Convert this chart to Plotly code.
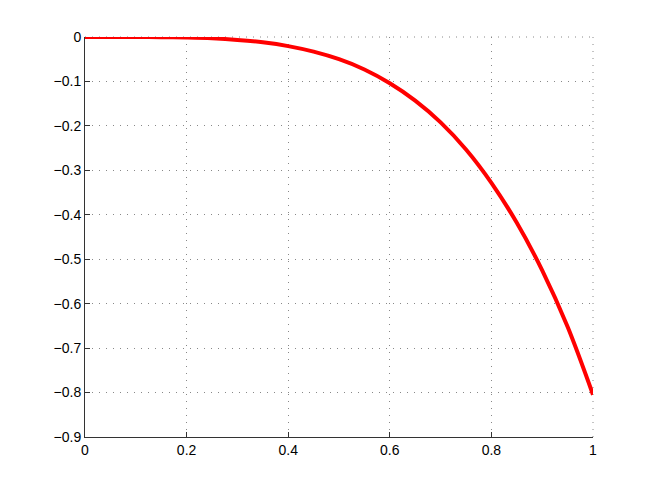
import plotly.graph_objects as go

x = [0, 0.05, 0.1, 0.15, 0.2, 0.25, 0.3, 0.35, 0.4, 0.45, 0.5,
     0.55, 0.6, 0.65, 0.7, 0.75, 0.8, 0.85, 0.9, 0.95, 1.0]
y = [0, 0, -0.0001, -0.0004, -0.0013, -0.003, -0.0065, -0.012, -0.0205, -0.033, -0.05,
     -0.073, -0.104, -0.143, -0.192, -0.253, -0.328, -0.418, -0.525, -0.652, -0.805]

xticks = [0, 0.2, 0.4, 0.6, 0.8, 1]
yticks = [0, -0.1, -0.2, -0.3, -0.4, -0.5, -0.6, -0.7, -0.8, -0.9]
ytick_text = ['0' if v == 0 else '\u2212' + str(abs(v)) for v in yticks]

fig = go.Figure()
fig.add_trace(go.Scatter(x=x, y=y, mode='lines', line=dict(color='red', width=4, shape='spline'),
                         showlegend=False))

grid_color = '#888888'
axis_style = dict(showgrid=True, gridcolor=grid_color, griddash='1px,6px', gridwidth=1,
                  zeroline=False, showline=True, linecolor='#333333', linewidth=1,
                  ticks='inside', ticklen=5, tickcolor='#333333',
                  tickfont=dict(family='Liberation Sans, Arial', size=14, color='black'))

fig.update_xaxes(range=[0, 1], tickvals=xticks, ticktext=[str(v) for v in xticks], **axis_style)
fig.update_yaxes(range=[-0.9, 0], tickvals=yticks, ticktext=ytick_text, **axis_style)

# dotted box edges on top and right, as in the original
for x0, y0, x1, y1 in [(0, 1, 1, 1), (1, 0, 1, 1)]:
    fig.add_shape(type='line', xref='paper', yref='paper', x0=x0, y0=y0, x1=x1, y1=y1,
                  line=dict(color=grid_color, width=1, dash='1px,6px'), layer='below')

fig.update_layout(width=646, height=484, margin=dict(l=77, r=61, t=29, b=55),
                  plot_bgcolor='white', paper_bgcolor='white')

fig.write_html("out.html")
